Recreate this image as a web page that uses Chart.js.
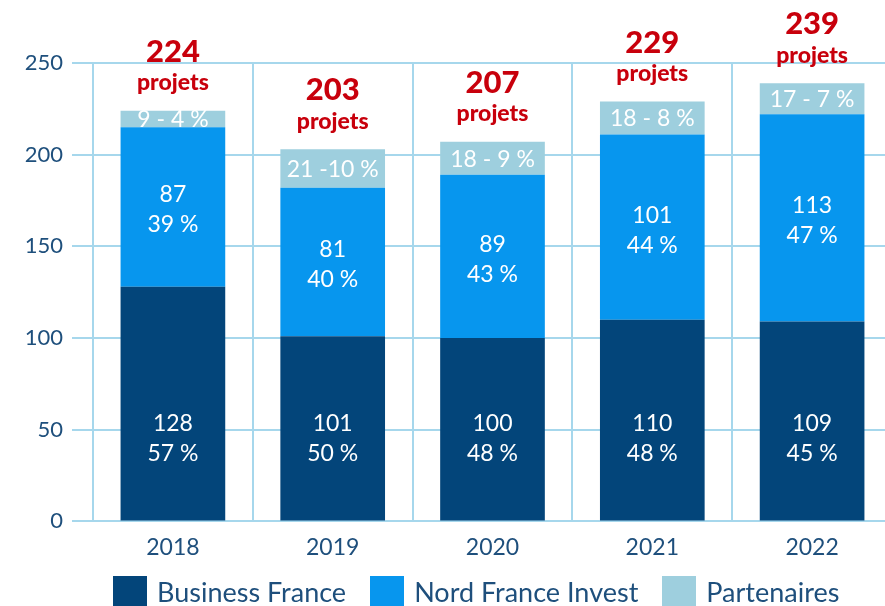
<!DOCTYPE html>
<html lang="fr">
<head>
<meta charset="utf-8">
<title>Projets par origine</title>
<script src="https://cdn.jsdelivr.net/npm/chart.js@4.4.0/dist/chart.umd.min.js"></script>
<style>
  html, body { margin: 0; padding: 0; background: #fff; overflow: hidden; }
  #wrap { position: relative; width: 885px; height: 606px; overflow: hidden; }
  #chart { position: absolute; left: 0; top: 0; }
  #legend { position: absolute; left: 113px; top: 575px; display: flex; align-items: flex-start;
            font-family: Lato, sans-serif; font-size: 27px; color: #1e4f7c; white-space: nowrap; }
  .item { display: flex; align-items: center; margin-right: 24px; }
  .item i { display: inline-block; width: 34px; height: 31px; margin-right: 10px; }
</style>
</head>
<body>
<div id="wrap">
  <canvas id="chart" width="895" height="584"></canvas>
  <div id="legend"></div>
</div>
<script>
const years = ["2018", "2019", "2020", "2021", "2022"];
const businessFrance = [128, 101, 100, 110, 109];
const nordFranceInvest = [87, 81, 89, 101, 113];
const partenaires = [9, 21, 18, 18, 17];
const bfPct = ["57 %", "50 %", "48 %", "48 %", "45 %"];
const nfiPct = ["39 %", "40 %", "43 %", "44 %", "47 %"];
const partLabels = ["9 - 4 %", "21 -10 %", "18 - 9 %", "18 - 8 %", "17 - 7 %"];
const yTicks = [0, 50, 100, 150, 200, 250];

const gridColor = "#a6d7ec";
const tickColor = "#1e4f7c";
const red = "#c8000c";

// where the Business France texts sit (axis value), they are not centred in the segment
const bfTextValue = 45;

const barTexts = {
    id: "barTexts",
    afterDatasetsDraw(chart) {
        const ctx = chart.ctx;
        const y = chart.scales.y;
        ctx.save();
        ctx.textAlign = "center";
        ctx.textBaseline = "middle";
        ctx.fillStyle = "#fff";
        ctx.font = "23px Lato";

        chart.getDatasetMeta(0).data.forEach((bar, i) => {
            const c = y.getPixelForValue(bfTextValue);
            ctx.fillText(String(businessFrance[i]), bar.x, c - 15);
            ctx.fillText(bfPct[i], bar.x, c + 15);
        });
        chart.getDatasetMeta(1).data.forEach((bar, i) => {
            const c = (bar.y + bar.base) / 2 + 3;
            ctx.fillText(String(nordFranceInvest[i]), bar.x, c - 15);
            ctx.fillText(nfiPct[i], bar.x, c + 15);
        });
        chart.getDatasetMeta(2).data.forEach((bar, i) => {
            ctx.fillText(partLabels[i], bar.x, (bar.y + bar.base) / 2 + 1);
        });

        // totals above the bars
        ctx.fillStyle = red;
        chart.getDatasetMeta(2).data.forEach((bar, i) => {
            const total = businessFrance[i] + nordFranceInvest[i] + partenaires[i];
            const top = y.getPixelForValue(total);
            ctx.font = "900 31px Lato";
            ctx.fillText(String(total), bar.x, top - 59);
            ctx.font = "900 23px Lato";
            ctx.fillText("projets", bar.x, top - 28);
        });
        ctx.restore();
    },
};

const config = {
    type: "bar",
    data: {
        labels: years,
        datasets: [
            { label: "Business France", data: businessFrance, backgroundColor: "#03457a" },
            { label: "Nord France Invest", data: nordFranceInvest, backgroundColor: "#0796ee" },
            { label: "Partenaires", data: partenaires, backgroundColor: "#9ecfde" },
        ],
    },
    options: {
        responsive: false,
        animation: false,
        barPercentage: 1,
        categoryPercentage: 0.655,
        layout: { padding: { left: 20, top: 63, right: 3, bottom: 11 } },
        plugins: {
            legend: { display: false },
            tooltip: { enabled: false },
        },
        scales: {
            x: {
                stacked: true,
                grid: { color: gridColor, lineWidth: 2, drawTicks: false, offset: true },
                border: { display: true, color: gridColor, width: 2 },
                ticks: { color: tickColor, font: { family: "Lato", size: 23 }, padding: 12 },
            },
            y: {
                stacked: true,
                min: 0,
                max: 250,
                afterBuildTicks: (scale) => {
                    scale.ticks = yTicks.map((v) => ({ value: v }));
                },
                afterFit: (scale) => {
                    scale.width = 73;
                },
                grid: { color: gridColor, lineWidth: 2, tickLength: 21 },
                border: { display: false },
                ticks: { color: tickColor, font: { family: "Lato", size: 22 }, padding: 9 },
            },
        },
    },
    plugins: [barTexts],
};

const chartCtx = document.getElementById("chart");
window.myBar = new Chart(chartCtx, config);

// legend under the chart, built from the datasets
const legendEl = document.getElementById("legend");
config.data.datasets.forEach((ds) => {
    const item = document.createElement("span");
    item.className = "item";
    const sw = document.createElement("i");
    sw.style.background = ds.backgroundColor;
    item.appendChild(sw);
    item.appendChild(document.createTextNode(ds.label));
    legendEl.appendChild(item);
});
</script>
</body>
</html>
